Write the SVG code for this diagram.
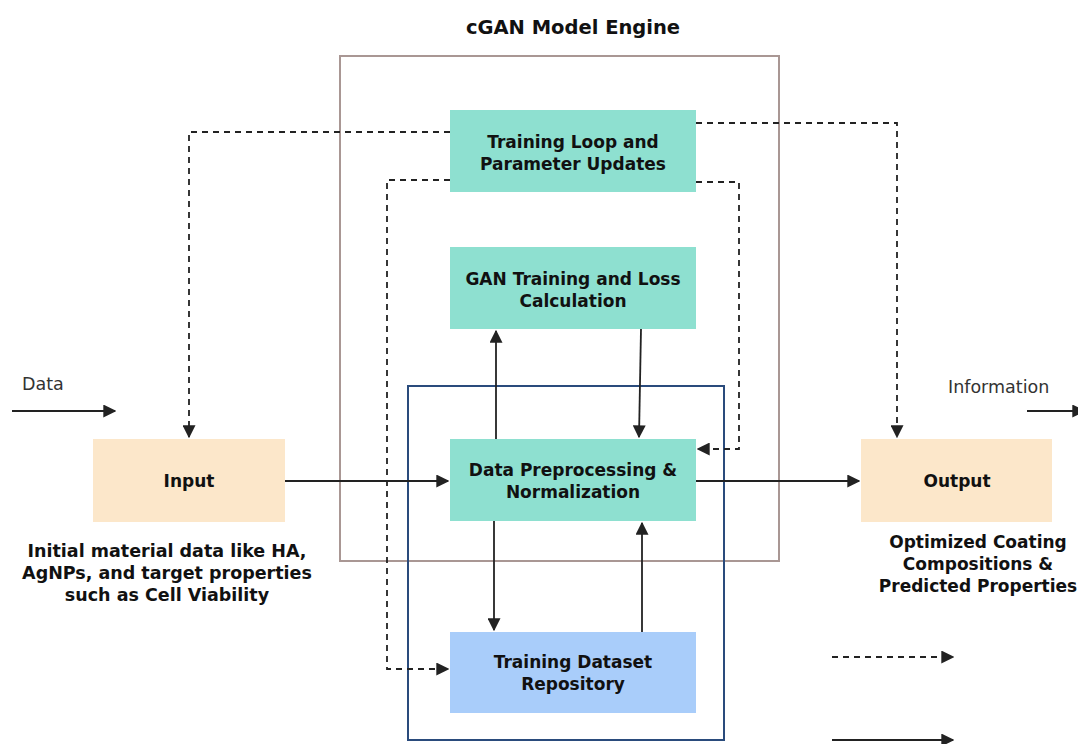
<svg xmlns="http://www.w3.org/2000/svg" width="1078" height="744" viewBox="0 0 1078 744">
<defs>
<style>
.t{font-family:"DejaVu Sans",Verdana,sans-serif;font-weight:bold;font-size:17px;fill:#111;text-anchor:middle}
.c{font-size:17.5px}
.l{font-family:"DejaVu Sans",Verdana,sans-serif;font-size:17.5px;fill:#333}
.teal{fill:#8EE0D0}
.peach{fill:#FCE7CA}
.blue{fill:#A9CDFA}
.s{stroke:#222;stroke-width:1.8;fill:none}
.d{stroke:#222;stroke-width:1.8;fill:none;stroke-dasharray:6 5}
</style>
<marker id="ab" viewBox="0 0 10 10" refX="9" refY="5" markerWidth="13" markerHeight="13" markerUnits="userSpaceOnUse" orient="auto">
<path d="M0,0 L10,5 L0,10 z" fill="#222"/>
</marker>
</defs>
<rect width="1078" height="744" fill="#fff"/>
<text class="t" x="573" y="34" style="font-size:19.5px">cGAN Model Engine</text>
<g id="engine"><rect x="340" y="56" width="439" height="505" fill="none" stroke="#A99794" stroke-width="2"/></g>
<g id="dataset-frame"><rect x="408" y="386" width="316" height="354" fill="none" stroke="#2A4B7C" stroke-width="2"/></g>
<g id="connectors">
<path class="d" d="M450,132 H189 V437" marker-end="url(#ab)"/>
<path class="d" d="M450,180 H387 V669 H448" marker-end="url(#ab)"/>
<path class="d" d="M696,123 H897 V437" marker-end="url(#ab)"/>
<path class="d" d="M696,182 H739 V449 H698" marker-end="url(#ab)"/>
<path class="s" d="M285,481 H448" marker-end="url(#ab)"/>
<path class="s" d="M696,481 H859" marker-end="url(#ab)"/>
<path class="s" d="M496,439 V331" marker-end="url(#ab)"/>
<path class="s" d="M641,329 L639,437" marker-end="url(#ab)"/>
<path class="s" d="M494,521 V630" marker-end="url(#ab)"/>
<path class="s" d="M642,632 V523" marker-end="url(#ab)"/>
<path class="s" d="M12,411 H115" marker-end="url(#ab)"/>
<path class="s" d="M1027,411 H1084" marker-end="url(#ab)"/>
<path class="d" d="M832,657 H953" marker-end="url(#ab)"/>
<path class="s" d="M832,740 H953" marker-end="url(#ab)"/>
</g>
<g id="training-loop"><rect class="teal" x="450" y="110" width="246" height="82"/>
<text class="t" x="573" y="148">Training Loop and</text><text class="t" x="573" y="170">Parameter Updates</text></g>
<g id="gan-training"><rect class="teal" x="450" y="247" width="246" height="82"/>
<text class="t" x="573" y="285">GAN Training and Loss</text><text class="t" x="573" y="307">Calculation</text></g>
<g id="data-prep"><rect class="teal" x="450" y="439" width="246" height="82"/>
<text class="t" x="573" y="476">Data Preprocessing &amp;</text><text class="t" x="573" y="498">Normalization</text></g>
<g id="dataset"><rect class="blue" x="450" y="632" width="246" height="81"/>
<text class="t" x="573" y="668">Training Dataset</text><text class="t" x="573" y="690">Repository</text></g>
<g id="input"><rect class="peach" x="93" y="439" width="192" height="83"/>
<text class="t" x="189" y="487">Input</text>
<text class="t c" x="167" y="557">Initial material data like HA,</text>
<text class="t c" x="167" y="579">AgNPs, and target properties</text>
<text class="t c" x="167" y="601">such as Cell Viability</text></g>
<g id="output"><rect class="peach" x="861" y="439" width="191" height="83"/>
<text class="t" x="957" y="487">Output</text>
<text class="t" x="978" y="548">Optimized Coating</text>
<text class="t" x="978" y="570">Compositions &amp;</text>
<text class="t" x="978" y="592">Predicted Properties</text></g>
<text class="l" x="22" y="390">Data</text>
<text class="l" x="948" y="393">Information</text>
</svg>
